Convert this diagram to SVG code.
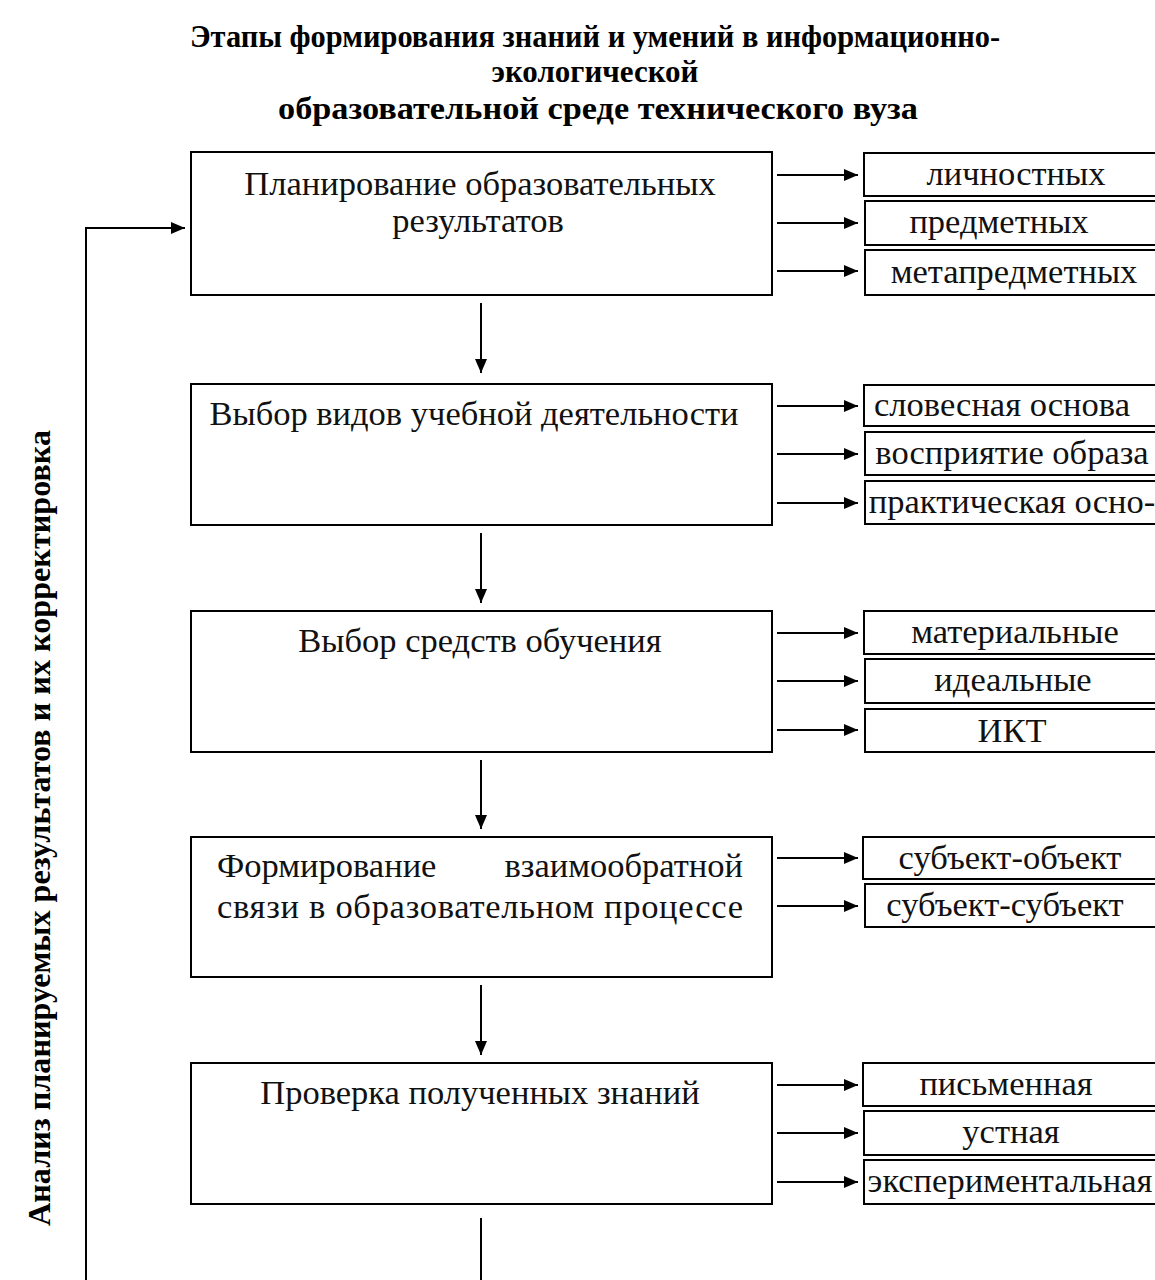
<svg xmlns="http://www.w3.org/2000/svg" width="1155" height="1280" viewBox="0 0 1155 1280">
<defs>
<marker id="ah" markerWidth="14" markerHeight="12" refX="14" refY="6" orient="auto" markerUnits="userSpaceOnUse">
<path d="M0,0 L14,6 L0,12 Z" fill="#000"/>
</marker>
<style>
.box{fill:#fff;stroke:#000;stroke-width:2}
.t{font-family:"Liberation Serif","Times New Roman",serif;font-size:34.5px;fill:#111}
.s{font-family:"Liberation Serif","Times New Roman",serif;font-size:34.5px;fill:#111;text-anchor:middle}
.c{text-anchor:middle}
.ttl{font-family:"Liberation Serif","Times New Roman",serif;font-size:31px;font-weight:bold;fill:#000;text-anchor:middle}
.side{font-family:"Liberation Serif","Times New Roman",serif;font-size:32.2px;font-weight:bold;fill:#000;text-anchor:middle}
.ln{stroke:#000;stroke-width:2;fill:none}
.ar{stroke:#000;stroke-width:2;fill:none;marker-end:url(#ah)}
</style>
</defs>
<rect width="1155" height="1280" fill="#fff"/>
<g id="title">
<text class="ttl" x="595" y="47" textLength="810" lengthAdjust="spacingAndGlyphs">Этапы формирования знаний и умений в информационно-</text>
<text class="ttl" x="595" y="82">экологической</text>
<text class="ttl" x="598" y="119" textLength="640" lengthAdjust="spacingAndGlyphs">образовательной среде технического вуза</text>
</g>
<g id="side-label">
<text class="side" transform="translate(50,828) rotate(-90)">Анализ планируемых результатов и их корректировка</text>
</g>
<g id="n1">
<rect class="box" x="191" y="152" width="581" height="143"/>
<text class="t c" x="480" y="195">Планирование образовательных</text>
<text class="t c" x="478" y="232">результатов</text>
</g>
<g id="n1a"><rect class="box" x="864" y="153" width="300" height="43"/><text class="s" x="1016" y="185">личностных</text></g>
<g id="n1b"><rect class="box" x="865" y="201" width="300" height="44"/><text class="s" x="999" y="233">предметных</text></g>
<g id="n1c"><rect class="box" x="865" y="250" width="300" height="45"/><text class="s" x="1014" y="283">метапредметных</text></g>
<g id="n2">
<rect class="box" x="191" y="384" width="581" height="141"/>
<text class="t c" x="474" y="425">Выбор видов учебной деятельности</text>
</g>
<g id="n2a"><rect class="box" x="864" y="385" width="300" height="41"/><text class="s" x="1002" y="416">словесная основа</text></g>
<g id="n2b"><rect class="box" x="865" y="432" width="300" height="43"/><text class="s" x="1012" y="464">восприятие образа</text></g>
<g id="n2c"><rect class="box" x="865" y="481" width="300" height="43"/><text class="s" x="1012" y="513">практическая осно-</text></g>
<g id="n3">
<rect class="box" x="191" y="611" width="581" height="141"/>
<text class="t c" x="480" y="652">Выбор средств обучения</text>
</g>
<g id="n3a"><rect class="box" x="864" y="611" width="300" height="43"/><text class="s" x="1015" y="643">материальные</text></g>
<g id="n3b"><rect class="box" x="865" y="659" width="300" height="44"/><text class="s" x="1013" y="691">идеальные</text></g>
<g id="n3c"><rect class="box" x="865" y="709" width="300" height="43"/><text class="s" x="1012" y="742">ИКТ</text></g>
<g id="n4">
<rect class="box" x="191" y="837" width="581" height="140"/>
<text class="t" x="217" y="877">Формирование</text>
<text class="t" x="743" y="877" text-anchor="end">взаимообратной</text>
<text class="t" x="217" y="918" textLength="526" lengthAdjust="spacing">связи в образовательном процессе</text>
</g>
<g id="n4a"><rect class="box" x="863" y="837" width="300" height="42"/><text class="s" x="1010" y="869">субъект-объект</text></g>
<g id="n4b"><rect class="box" x="865" y="884" width="300" height="43"/><text class="s" x="1005" y="916">субъект-субъект</text></g>
<g id="n5">
<rect class="box" x="191" y="1063" width="581" height="141"/>
<text class="t c" x="480" y="1104">Проверка полученных знаний</text>
</g>
<g id="n5a"><rect class="box" x="863" y="1063" width="300" height="43"/><text class="s" x="1006" y="1095">письменная</text></g>
<g id="n5b"><rect class="box" x="864" y="1111" width="300" height="44"/><text class="s" x="1011" y="1143">устная</text></g>
<g id="n5c"><rect class="box" x="864" y="1160" width="300" height="44"/><text class="s" x="1010" y="1192">экспериментальная</text></g>
<g id="connectors">
<path class="ar" d="M481,303 V373"/>
<path class="ar" d="M481,533 V603"/>
<path class="ar" d="M481,760 V829"/>
<path class="ar" d="M481,985 V1055"/>
<path class="ln" d="M481,1218 V1280"/>
<path class="ar" d="M86,1280 V228 H185"/>
<path class="ar" d="M777,175 H858"/>
<path class="ar" d="M777,223 H858"/>
<path class="ar" d="M777,271 H858"/>
<path class="ar" d="M777,406 H858"/>
<path class="ar" d="M777,454 H858"/>
<path class="ar" d="M777,503 H858"/>
<path class="ar" d="M777,633 H858"/>
<path class="ar" d="M777,681 H858"/>
<path class="ar" d="M777,730 H858"/>
<path class="ar" d="M777,858 H858"/>
<path class="ar" d="M777,906 H858"/>
<path class="ar" d="M777,1085 H858"/>
<path class="ar" d="M777,1133 H858"/>
<path class="ar" d="M777,1182 H858"/>
</g>
</svg>
